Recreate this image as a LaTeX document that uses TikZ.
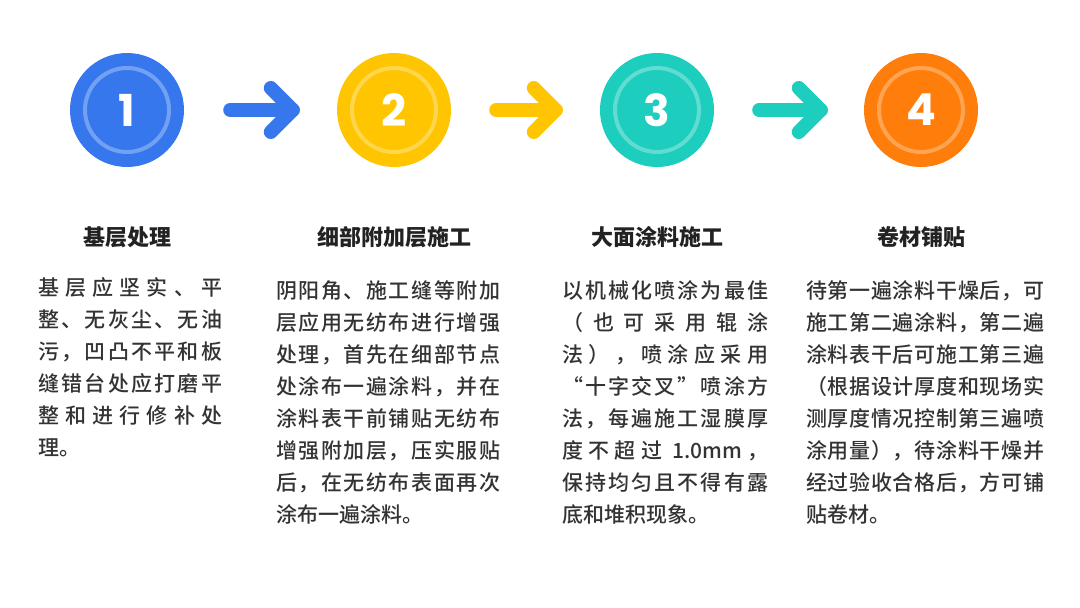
\documentclass[tikz,border=0pt]{standalone}
\usepackage{fontspec}
\setmainfont{Noto Sans CJK SC}[BoldFont={Noto Sans CJK SC Bold}]
\newfontfamily\bodyfont{Noto Sans CJK SC Medium}
\newfontfamily\titlefont{Noto Sans CJK SC Black}
\newfontfamily\digitfont{Poppins}
\definecolor{cblue}{HTML}{3677EE}
\definecolor{cyellow}{HTML}{FFC501}
\definecolor{cteal}{HTML}{1DCDBE}
\definecolor{corange}{HTML}{FF7D0A}
\definecolor{titlec}{HTML}{222222}
\definecolor{bodyc}{HTML}{333333}
\def\jend{}
\def\jendm{\jend}
\def\jspread#1{#1\jrest}
\def\jrest#1{\def\jtmp{#1}\ifx\jtmp\jendm\else\hskip 0pt plus 1fil\relax#1\expandafter\jrest\fi}
\newcommand\jl[2]{\makebox[#1][s]{\jspread#2\jend}}
\tikzset{
  stepc/.style={circle, minimum size=114pt, inner sep=0pt, fill=#1, text=white,
    font=\digitfont\bfseries\fontsize{44}{44}\selectfont},
  ringc/.style={draw=white, draw opacity=0.3, line width=4pt},
  arr/.style={line width=14pt, line cap=round, line join=round, draw=#1},
  titlenode/.style={font=\titlefont\fontsize{22}{22}\selectfont, text=titlec, inner sep=0pt},
  bodynode/.style={font=\bodyfont\fontsize{21}{32}\selectfont, text=bodyc, align=left, anchor=north west, inner sep=0pt},
}
\begin{document}
\begin{tikzpicture}[x=1pt,y=-1pt]
\useasboundingbox (0,0) rectangle (1080,608);
\fill[white] (0,0) rectangle (1080,608);
% circles
\node[stepc=cblue] (c1) at (127,110) {1};
\node[stepc=cyellow] (c2) at (394,110) {2};
\node[stepc=cteal] (c3) at (657,110) {3};
\node[stepc=corange] (c4) at (921,110) {4};
\foreach \c in {c1,c2,c3,c4} {\draw[ringc] (\c.center) circle (42pt);}
% arrows
\draw[arr=cblue] ([xshift=46pt]c1.east) -- ([xshift=-44pt]c2.west);
\draw[arr=cblue] ([xshift=-66pt,yshift=22pt]c2.west) -- ([xshift=-44pt]c2.west) -- ([xshift=-66pt,yshift=-22pt]c2.west);
\draw[arr=cyellow] ([xshift=45pt]c2.east) -- ([xshift=-44pt]c3.west);
\draw[arr=cyellow] ([xshift=-66pt,yshift=22pt]c3.west) -- ([xshift=-44pt]c3.west) -- ([xshift=-66pt,yshift=-22pt]c3.west);
\draw[arr=cteal] ([xshift=45pt]c3.east) -- ([xshift=-43pt]c4.west);
\draw[arr=cteal] ([xshift=-65pt,yshift=22pt]c4.west) -- ([xshift=-43pt]c4.west) -- ([xshift=-65pt,yshift=-22pt]c4.west);
% titles
\node[titlenode] (t1) at (127,237) {基层处理};
\node[titlenode] (t2) at (394,237) {细部附加层施工};
\node[titlenode] (t3) at (657,237) {大面涂料施工};
\node[titlenode] (t4) at (921,237) {卷材铺贴};
% bodies
\node[bodynode] (b1) at (38,277.5) {%
\jl{184pt}{基层应坚实、平}\\
\jl{184pt}{整、无灰尘、无油}\\
\jl{184pt}{污，凹凸不平和板}\\
\jl{184pt}{缝错台处应打磨平}\\
\jl{184pt}{整和进行修补处}\\
理。};
\node[bodynode] (b2) at (276,280.5) {%
\jl{224pt}{阴阳角、施工缝等附加}\\
\jl{224pt}{层应用无纺布进行增强}\\
\jl{224pt}{处理，首先在细部节点}\\
\jl{224pt}{处涂布一遍涂料，并在}\\
\jl{224pt}{涂料表干前铺贴无纺布}\\
\jl{224pt}{增强附加层，压实服贴}\\
\jl{224pt}{后，在无纺布表面再次}\\
涂布一遍涂料。};
\node[bodynode] (b3) at (562,280.5) {%
\jl{206pt}{以机械化喷涂为最佳}\\
\jl{206pt}{（也可采用辊涂}\\
\jl{206pt}{法），喷涂应采用}\\
\jl{206pt}{“十字交叉”喷涂方}\\
\jl{206pt}{法，每遍施工湿膜厚}\\
\jl{206pt}{度不超过{\ 1.0mm}，}\\
\jl{206pt}{保持均匀且不得有露}\\
底和堆积现象。};
\node[bodynode] (b4) at (806,280.5) {%
\jl{238pt}{待第一遍涂料干燥后，可}\\
\jl{238pt}{施工第二遍涂料，第二遍}\\
\jl{238pt}{涂料表干后可施工第三遍}\\
\jl{238pt}{（根据设计厚度和现场实}\\
\jl{238pt}{测厚度情况控制第三遍喷}\\
\jl{238pt}{涂用量），待涂料干燥并}\\
\jl{238pt}{经过验收合格后，方可铺}\\
贴卷材。};
\end{tikzpicture}
\end{document}
